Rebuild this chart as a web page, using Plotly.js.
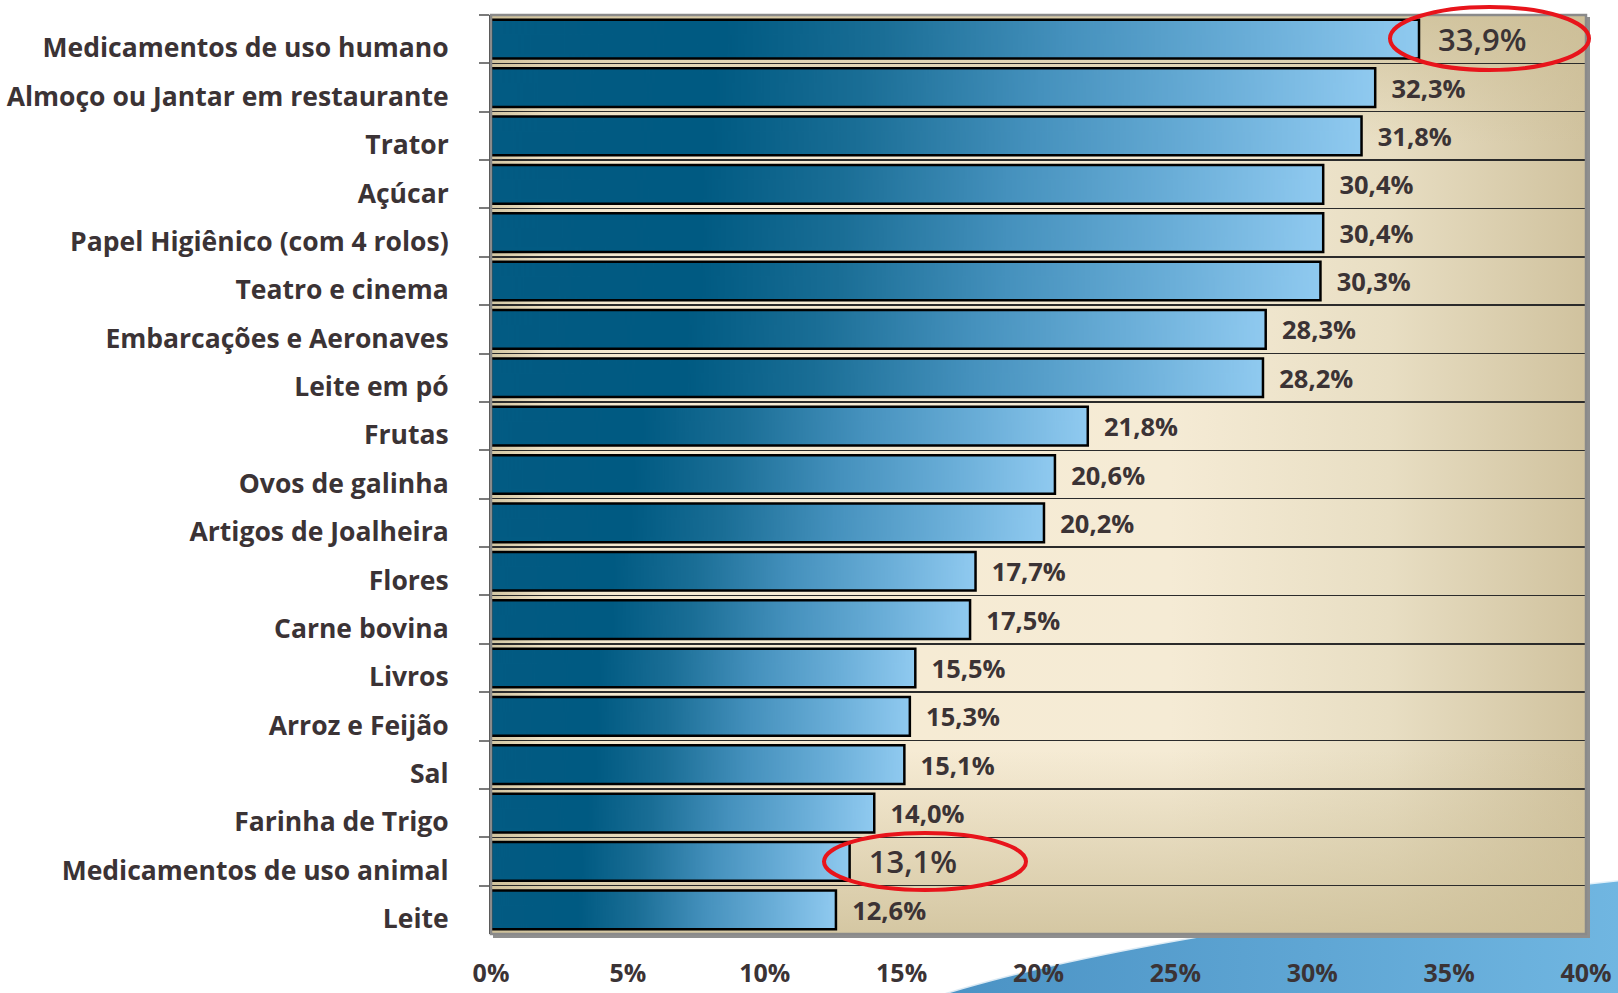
<!DOCTYPE html>
<html><head><meta charset="utf-8">
<script src="https://cdn.plot.ly/plotly-3.0.1.min.js"></script>
<style>html,body{margin:0;padding:0;background:#fff;overflow:hidden}#chart{width:1618px;height:993px}</style>
</head><body><div id="chart"></div>
<script>
const categories = [
  'Medicamentos de uso humano','Almoço ou Jantar em restaurante','Trator','Açúcar',
  'Papel Higiênico (com 4 rolos)','Teatro e cinema','Embarcações e Aeronaves','Leite em pó',
  'Frutas','Ovos de galinha','Artigos de Joalheira','Flores','Carne bovina','Livros',
  'Arroz e Feijão','Sal','Farinha de Trigo','Medicamentos de uso animal','Leite'
];
const values = [33.9,32.3,31.8,30.4,30.4,30.3,28.3,28.2,21.8,20.6,20.2,17.7,17.5,15.5,15.3,15.1,14.0,13.1,12.6];
const highlighted = ['Medicamentos de uso humano','Medicamentos de uso animal'];
const xTicks = [0,5,10,15,20,25,30,35,40];
const xTickLabels = ['0%','5%','10%','15%','20%','25%','30%','35%','40%'];

const W = 1618, H = 993;
const M = {l:491, r:32, t:15, b:59};
const pw = W - M.l - M.r, ph = H - M.t - M.b;
const TXT = '#3b3335';

function pageBackground(){
  const c = document.createElement('canvas'); c.width = W; c.height = H;
  const g = c.getContext('2d');
  g.fillStyle = '#ffffff'; g.fillRect(0,0,W,H);
  const bl = g.createLinearGradient(940,0,W,0);
  bl.addColorStop(0,'#4a92c4'); bl.addColorStop(1,'#70b6e1');
  g.beginPath(); g.moveTo(945,H); g.quadraticCurveTo(1150,930,W,880); g.lineTo(W,H); g.closePath();
  g.fillStyle = bl; g.fill();
  g.beginPath(); g.moveTo(945,H); g.quadraticCurveTo(1150,930,W,880);
  g.strokeStyle='rgba(255,255,255,0.8)'; g.lineWidth=3; g.stroke();
  g.fillStyle = '#8f8f8f'; g.fillRect(M.l+2, M.t+2, pw+2, ph+2);
  const hg = g.createLinearGradient(M.l,0,M.l+pw,0);
  hg.addColorStop(0,'#d3c6a2'); hg.addColorStop(0.05,'#eee2c6'); hg.addColorStop(0.14,'#f7ebd3');
  hg.addColorStop(0.62,'#f5ebd5'); hg.addColorStop(0.82,'#e8dec3'); hg.addColorStop(1,'#d0c29e');
  g.fillStyle = hg; g.fillRect(M.l, M.t, pw, ph);
  const vg = g.createLinearGradient(0,M.t,0,M.t+ph);
  vg.addColorStop(0,'rgba(204,190,150,0.75)'); vg.addColorStop(0.14,'rgba(204,190,150,0)');
  vg.addColorStop(0.8,'rgba(204,190,150,0)'); vg.addColorStop(1,'rgba(204,190,150,0.8)');
  g.fillStyle = vg; g.fillRect(M.l, M.t, pw, ph);
  return c.toDataURL();
}
function barGradient(){
  const c = document.createElement('canvas'); c.width = 600; c.height = 4;
  const g = c.getContext('2d');
  const lg = g.createLinearGradient(0,0,600,0);
  lg.addColorStop(0,'#035b83'); lg.addColorStop(0.25,'#005a82'); lg.addColorStop(0.42,'#1a6e96');
  lg.addColorStop(0.62,'#4591bd'); lg.addColorStop(0.82,'#6aaed8'); lg.addColorStop(1,'#90caf0');
  g.fillStyle = lg; g.fillRect(0,0,600,4);
  return c.toDataURL();
}
const barImg = barGradient();
const images = [{
  source: pageBackground(), xref:'paper', yref:'paper',
  x: -M.l/pw, y: 1 + M.t/ph, sizex: W/pw, sizey: H/ph,
  xanchor:'left', yanchor:'top', sizing:'stretch', layer:'below'
}];
values.forEach((v,i)=>{
  images.push({source: barImg, xref:'x', yref:'y', x:0, y:i-0.4, sizex:v, sizey:0.8,
    xanchor:'left', yanchor:'top', sizing:'stretch', layer:'below'});
});

const isHi = categories.map(c => highlighted.includes(c));
const trace = {
  type:'bar', orientation:'h', y: categories, x: values, width: 0.8,
  marker:{color:'rgba(0,0,0,0)', line:{color:'#000', width:2.5}},
  texttemplate:'\u00a0\u00a0%{x:.1f}%', textposition:'outside', cliponaxis:false, constraintext:'none',
  textfont:{family:'Open Sans', color:TXT,
    size: isHi.map(h => h ? 31 : 25.5),
    weight: isHi.map(h => h ? 600 : 'bold')},
  hoverinfo:'skip'
};

function pp(px){ return (px - M.l)/pw; }
function py(pyv){ return (M.t + ph - pyv)/ph; }
const shapes = [
  {type:'rect', xref:'paper', yref:'paper', x0:0, x1:1, y0:0, y1:1, line:{color:'#8a8a8a', width:2.5}, layer:'above'},
  {type:'circle', xref:'paper', yref:'paper', x0:pp(1390), x1:pp(1589), y0:py(70), y1:py(7), line:{color:'#e8141b', width:4}, layer:'above'},
  {type:'circle', xref:'paper', yref:'paper', x0:pp(824), x1:pp(1026), y0:py(890), y1:py(833), line:{color:'#e8141b', width:4}, layer:'above'}
];

const layout = {
  width: W, height: H, margin: M, paper_bgcolor:'#ffffff', plot_bgcolor:'rgba(0,0,0,0)',
  separators: ',.', showlegend:false, font:{family:'Open Sans', color:TXT},
  bargap: 0.2,
  xaxis:{range:[0,40], tickmode:'array', tickvals:xTicks, ticktext:xTickLabels, showgrid:false, zeroline:false, showline:false,
    ticks:'', ticklabelstandoff: 22, tickfont:{size:25, weight:'bold', color:TXT, family:'Open Sans'}, fixedrange:true},
  yaxis:{type:'category', range:[18.5,-0.5], tickson:'boundaries', ticks:'outside', ticklen:10, tickwidth:2,
    tickcolor:'#7a7a7a', showgrid:true, gridcolor:'#2b2b2b', gridwidth:1.5, showline:true, linecolor:'#4a4a4a', linewidth:2,
    ticklabelstandoff: 35, ticklabelshift: -9,
    tickfont:{size:26.5, weight:'bold', color:TXT, family:'Open Sans'}, fixedrange:true},
  images: images, shapes: shapes
};
Plotly.newPlot('chart', [trace], layout, {displayModeBar:false, staticPlot:true});
</script></body></html>
